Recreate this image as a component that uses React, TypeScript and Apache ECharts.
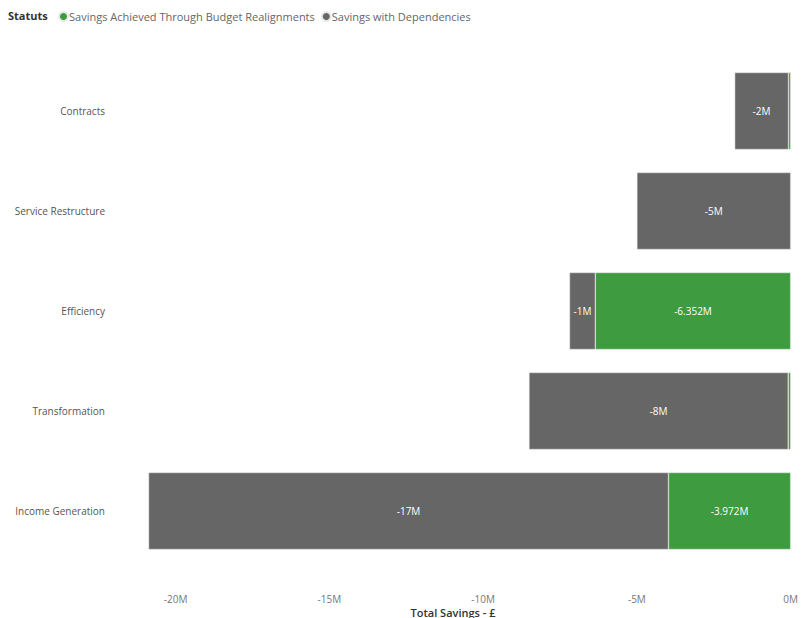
import React, { useEffect, useRef } from "react";
import * as echarts from "echarts";

const categories = ["Contracts", "Service Restructure", "Efficiency", "Transformation", "Income Generation"];
const achievedValues = [-0.07, 0, -6.352, -0.08, -3.972];
const dependencyValues = [-1.75, -5.0, -0.84, -8.43, -16.91];
const seriesNames = ["Savings Achieved Through Budget Realignments", "Savings with Dependencies"];
const tickValues = [-20, -15, -10, -5, 0];

const FONT = "'Open Sans', 'Noto Sans', sans-serif";

export default function App() {
  const ref = useRef<HTMLDivElement>(null);
  useEffect(() => {
    if (!ref.current) return;
    const chart = echarts.init(ref.current, null, { renderer: "svg" });
    chart.setOption({
      animation: false,
      textStyle: { fontFamily: FONT },
      legend: {
        left: 53,
        top: 6,
        icon: "circle",
        itemWidth: 9,
        itemHeight: 9,
        itemGap: 6,
        textStyle: { fontSize: 11, color: "#666", fontFamily: FONT, padding: [0, 0, 0, -4] },
        data: seriesNames,
      },
      graphic: [
        {
          type: "text",
          left: 8,
          top: 10,
          style: { text: "Statuts", font: `bold 11px ${FONT}`, fill: "#333" },
        },
        {
          type: "text",
          x: 453,
          y: 612,
          style: { text: "Total Savings - £", font: `600 11px ${FONT}`, fill: "#333", align: "center", verticalAlign: "middle" },
        },
      ],
      grid: { left: 148, right: 8, top: 61, bottom: 57, containLabel: false },
      xAxis: {
        type: "value",
        min: -20.9,
        max: 0,
        splitLine: { show: false },
        axisLine: { show: false },
        axisTick: { show: false },
        axisLabel: {
          color: "#777",
          fontSize: 10,
          fontFamily: FONT,
          margin: 33,
          customValues: tickValues,
          formatter: (v: number) => `${Math.round(v)}M`,
        },
      },
      yAxis: {
        type: "category",
        data: categories,
        inverse: true,
        axisLine: { show: false },
        axisTick: { show: false },
        axisLabel: { color: "#555", fontSize: 10, fontFamily: FONT, margin: 43 },
      },
      series: [
        {
          name: seriesNames[0],
          type: "bar",
          stack: "total",
          data: achievedValues,
          barWidth: "77%",
          itemStyle: { color: "#3F9B3F", borderColor: "#e8e8e8", borderWidth: 0.5 },
          label: {
            show: true,
            position: "inside",
            color: "#fff",
            fontSize: 10,
            fontFamily: FONT,
            formatter: (p: any) => (Math.abs(p.value) < 0.5 ? "" : `${p.value.toFixed(3)}M`),
          },
        },
        {
          name: seriesNames[1],
          type: "bar",
          stack: "total",
          data: dependencyValues,
          barWidth: "77%",
          itemStyle: { color: "#666666", borderColor: "#e8e8e8", borderWidth: 0.5 },
          label: {
            show: true,
            position: "inside",
            color: "#fff",
            fontSize: 10,
            fontFamily: FONT,
            formatter: (p: any) => (Math.abs(p.value) < 0.5 ? "" : `${Math.round(p.value)}M`),
          },
        },
      ],
    });
    return () => chart.dispose();
  }, []);
  return <div ref={ref} style={{ width: 801, height: 618, position: "absolute", left: 0, top: 0 }} />;
}
